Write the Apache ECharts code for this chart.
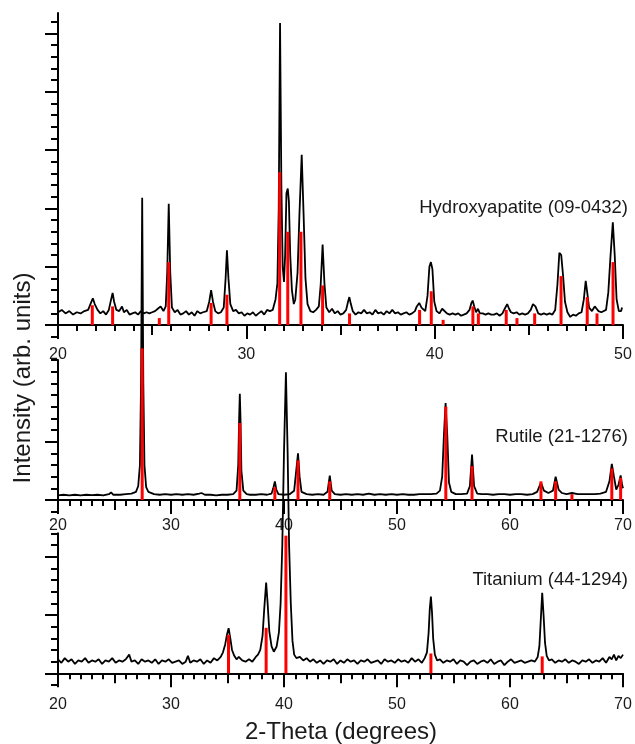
<!DOCTYPE html>
<html>
<head>
<meta charset="utf-8">
<script src="https://cdn.jsdelivr.net/npm/echarts@6/dist/echarts.min.js"></script>
<style>
  html, body { margin: 0; padding: 0; background: #fff; }
  #chart { width: 635px; height: 744px; }
</style>
</head>
<body>
<div id="chart"></div>
<script>
// measured XRD patterns: [2-theta, intensity] (intensity in y-tick units)
var hapCurve = [[20.0,1.1],[20.2,1.3],[20.4,1.0],[20.6,1.2],[20.8,0.9],[21.0,1.1],[21.2,1.0],[21.4,1.2],[21.6,1.3],[21.75,1.9],[21.85,2.3],[21.95,1.8],[22.1,1.3],[22.25,1.0],[22.4,1.2],[22.55,0.9],[22.7,1.3],[22.82,2.2],[22.9,2.75],[22.98,2.0],[23.1,1.3],[23.25,1.2],[23.4,1.6],[23.5,1.1],[23.65,1.3],[23.8,0.9],[23.95,1.0],[24.1,1.1],[24.25,0.9],[24.4,1.2],[24.55,1.0],[24.7,1.1],[24.85,1.0],[25.0,1.1],[25.15,1.2],[25.3,1.4],[25.45,1.6],[25.6,1.2],[25.72,1.6],[25.8,4.5],[25.88,10.4],[25.96,4.5],[26.05,1.5],[26.2,1.1],[26.35,1.3],[26.5,0.9],[26.65,1.0],[26.8,1.2],[26.95,0.9],[27.1,1.1],[27.25,0.8],[27.4,1.2],[27.55,1.0],[27.7,1.1],[27.9,1.2],[28.03,2.0],[28.13,3.0],[28.23,2.0],[28.35,1.2],[28.5,1.0],[28.65,1.1],[28.8,1.5],[28.9,4.0],[28.97,6.4],[29.05,4.0],[29.15,1.8],[29.3,1.2],[29.45,1.3],[29.6,1.0],[29.75,1.1],[29.9,0.8],[30.05,1.0],[30.2,0.9],[30.35,1.1],[30.5,0.8],[30.65,1.0],[30.8,1.2],[30.95,0.9],[31.1,1.3],[31.25,1.2],[31.4,1.3],[31.55,2.2],[31.65,3.6],[31.72,10.0],[31.79,25.9],[31.86,12.0],[31.93,5.0],[32.0,3.7],[32.06,6.0],[32.13,11.3],[32.2,11.7],[32.26,10.6],[32.33,6.0],[32.42,3.0],[32.52,1.8],[32.6,2.2],[32.72,4.5],[32.82,9.5],[32.94,14.6],[33.04,9.5],[33.14,4.0],[33.25,1.8],[33.4,1.2],[33.55,1.1],[33.7,1.3],[33.85,1.6],[33.95,3.5],[34.05,6.9],[34.15,3.5],[34.25,1.5],[34.4,1.1],[34.55,1.4],[34.7,1.0],[34.85,1.2],[35.0,0.9],[35.15,1.0],[35.3,1.3],[35.4,2.0],[35.47,2.4],[35.55,1.8],[35.65,1.2],[35.8,0.9],[35.95,1.1],[36.1,1.0],[36.25,1.3],[36.4,1.0],[36.55,1.1],[36.7,0.9],[36.85,1.3],[37.0,1.0],[37.15,1.1],[37.3,0.9],[37.45,1.2],[37.6,1.0],[37.75,1.3],[37.9,1.0],[38.05,1.1],[38.2,0.9],[38.35,1.0],[38.5,1.1],[38.65,0.9],[38.8,1.0],[38.95,1.2],[39.05,1.6],[39.18,1.9],[39.3,1.5],[39.5,1.2],[39.62,2.5],[39.72,5.0],[39.8,5.4],[39.88,4.8],[39.98,2.0],[40.1,1.2],[40.25,1.0],[40.4,1.4],[40.5,1.3],[40.65,1.0],[40.8,0.9],[40.95,1.0],[41.1,0.9],[41.25,1.0],[41.4,0.8],[41.55,0.9],[41.7,1.0],[41.85,1.3],[41.95,1.9],[42.02,2.1],[42.1,1.6],[42.2,1.1],[42.3,1.4],[42.4,1.0],[42.55,1.0],[42.7,0.9],[42.85,1.0],[43.0,0.9],[43.15,0.9],[43.3,1.0],[43.45,0.8],[43.6,1.0],[43.72,1.4],[43.85,1.8],[43.95,1.4],[44.05,1.1],[44.2,1.0],[44.35,1.1],[44.5,0.9],[44.65,1.0],[44.8,0.9],[44.95,1.0],[45.1,1.3],[45.22,1.8],[45.35,1.6],[45.5,1.0],[45.65,0.9],[45.8,1.0],[45.95,0.9],[46.1,1.0],[46.25,0.9],[46.4,1.3],[46.52,3.5],[46.62,6.2],[46.72,6.0],[46.82,4.2],[46.92,2.0],[47.05,1.1],[47.2,0.7],[47.35,0.9],[47.5,0.8],[47.65,1.0],[47.8,1.1],[47.92,2.2],[48.02,3.8],[48.1,2.8],[48.2,1.5],[48.35,1.2],[48.5,1.6],[48.6,1.4],[48.7,1.2],[48.85,1.1],[48.95,1.0],[49.1,1.3],[49.22,2.8],[49.34,6.0],[49.46,8.8],[49.56,6.0],[49.66,2.2],[49.78,1.2],[49.9,1.2],[49.95,1.5]];

var rutCurve = [[20,0.4],[20.5,0.45],[21,0.4],[21.5,0.45],[22,0.4],[22.5,0.45],[23,0.42],[23.5,0.45],[24,0.4],[24.5,0.5],[24.7,0.65],[24.9,0.45],[25.5,0.45],[26,0.5],[26.5,0.55],[26.9,0.7],[27.1,1.2],[27.25,3.0],[27.35,10.0],[27.45,25.9],[27.55,10.0],[27.65,3.0],[27.8,1.1],[28.0,0.7],[28.5,0.5],[29,0.45],[29.5,0.5],[30,0.45],[30.5,0.5],[31,0.45],[31.5,0.5],[32,0.45],[32.5,0.55],[32.7,0.6],[33,0.45],[33.5,0.45],[34,0.4],[34.5,0.45],[35,0.45],[35.5,0.5],[35.8,0.8],[35.95,3.0],[36.03,7.0],[36.09,9.1],[36.15,7.0],[36.23,2.5],[36.4,0.8],[36.7,0.5],[37,0.45],[37.5,0.45],[38,0.5],[38.5,0.45],[38.9,0.55],[39.05,1.0],[39.19,1.6],[39.32,0.9],[39.5,0.5],[40,0.45],[40.5,0.5],[40.9,0.8],[41.08,2.5],[41.24,4.0],[41.38,2.0],[41.55,0.7],[42,0.5],[42.5,0.45],[43,0.5],[43.5,0.45],[43.85,0.7],[44.05,2.1],[44.22,0.8],[44.5,0.5],[45,0.45],[45.5,0.5],[46,0.45],[46.5,0.5],[47,0.45],[47.5,0.55],[48,0.45],[48.5,0.5],[49,0.45],[49.5,0.5],[50,0.45],[50.5,0.5],[51,0.45],[51.5,0.45],[52,0.5],[52.5,0.5],[53,0.5],[53.5,0.55],[53.8,0.8],[54.0,2.0],[54.15,5.5],[54.3,8.3],[54.45,5.5],[54.6,1.5],[54.8,0.7],[55.2,0.5],[55.7,0.5],[56.2,0.55],[56.45,1.2],[56.64,3.9],[56.82,1.2],[57.1,0.55],[57.5,0.5],[58,0.5],[58.5,0.45],[59,0.5],[59.5,0.5],[60,0.45],[60.5,0.5],[61,0.5],[61.5,0.45],[62,0.5],[62.4,0.7],[62.74,1.5],[63.0,0.8],[63.4,0.6],[63.8,0.8],[64.04,2.0],[64.3,0.9],[64.6,0.6],[65,0.5],[65.48,0.6],[66,0.5],[66.5,0.5],[67,0.5],[67.5,0.5],[68,0.55],[68.5,0.7],[68.8,1.6],[69.01,3.1],[69.2,2.0],[69.4,0.9],[69.6,1.3],[69.79,2.1],[69.92,1.3],[70,1.0]];

var tiCurve = [[20.0,1.2],[20.3,0.9],[20.6,1.3],[20.9,1.0],[21.2,1.2],[21.5,0.8],[21.8,1.1],[22.1,1.0],[22.4,1.3],[22.7,0.9],[23.0,1.1],[23.3,1.0],[23.6,1.2],[23.9,0.8],[24.2,1.1],[24.5,1.0],[24.8,1.3],[25.1,0.9],[25.4,1.1],[25.7,1.0],[26.0,1.2],[26.3,1.6],[26.5,1.0],[26.8,1.1],[27.1,0.8],[27.4,1.2],[27.7,1.0],[28.0,1.1],[28.3,0.9],[28.6,1.2],[28.9,0.8],[29.2,1.1],[29.5,1.0],[29.8,1.2],[30.1,0.9],[30.4,1.0],[30.7,1.1],[31.0,0.8],[31.3,1.0],[31.5,1.5],[31.7,0.9],[32.0,1.1],[32.3,1.0],[32.6,1.2],[32.9,0.8],[33.2,1.1],[33.5,0.9],[33.8,1.3],[34.1,1.1],[34.4,1.4],[34.6,1.8],[34.8,2.5],[34.95,3.3],[35.1,3.86],[35.25,3.0],[35.4,2.0],[35.6,1.5],[35.8,1.2],[36.0,1.4],[36.3,1.1],[36.6,1.0],[36.9,1.2],[37.2,1.0],[37.5,1.4],[37.7,1.6],[37.9,2.0],[38.1,3.2],[38.25,5.5],[38.42,7.77],[38.55,6.0],[38.7,3.6],[38.9,2.3],[39.1,1.85],[39.35,2.3],[39.55,3.5],[39.7,6.0],[39.85,11.0],[40.0,19.0],[40.17,25.8],[40.32,19.0],[40.45,11.0],[40.6,6.0],[40.75,2.8],[40.9,1.6],[41.1,1.3],[41.4,1.4],[41.7,1.1],[42.0,1.3],[42.3,1.0],[42.6,1.2],[42.9,0.9],[43.2,1.1],[43.5,0.8],[43.8,1.1],[44.1,1.0],[44.4,1.2],[44.7,0.8],[45.0,1.1],[45.3,0.9],[45.6,1.2],[45.9,1.0],[46.2,1.1],[46.5,0.8],[46.8,1.1],[47.1,1.0],[47.4,1.2],[47.7,0.9],[48.0,1.0],[48.3,1.1],[48.6,0.8],[48.9,1.2],[49.2,1.0],[49.5,1.1],[49.8,0.9],[50.1,1.2],[50.4,1.0],[50.7,1.1],[51.0,0.9],[51.3,1.3],[51.6,1.0],[51.9,1.2],[52.2,0.9],[52.45,1.3],[52.65,1.8],[52.8,3.5],[52.9,5.5],[53.0,6.57],[53.1,5.2],[53.2,3.0],[53.35,1.6],[53.55,1.1],[53.8,1.2],[54.1,0.9],[54.4,1.1],[54.7,1.0],[55.0,1.2],[55.3,0.8],[55.6,1.1],[55.9,1.0],[56.2,0.7],[56.5,1.0],[56.8,1.1],[57.1,0.8],[57.4,1.0],[57.7,1.1],[58.0,0.9],[58.3,1.2],[58.6,0.8],[58.9,1.0],[59.2,1.1],[59.5,0.7],[59.8,1.0],[60.1,1.2],[60.4,0.9],[60.7,1.0],[61.0,1.1],[61.3,0.9],[61.6,1.0],[61.9,1.1],[62.2,1.0],[62.45,1.4],[62.6,2.3],[62.72,4.5],[62.85,6.9],[62.97,5.0],[63.1,2.6],[63.25,1.5],[63.45,1.1],[63.7,1.2],[64.0,0.9],[64.3,1.1],[64.6,1.0],[64.9,1.2],[65.2,0.9],[65.5,1.1],[65.8,1.0],[66.1,0.8],[66.4,1.1],[66.7,1.0],[67.0,1.2],[67.3,0.9],[67.6,1.1],[67.9,1.0],[68.2,1.3],[68.5,0.9],[68.8,1.4],[69.0,1.2],[69.2,1.6],[69.4,1.1],[69.6,1.5],[69.8,1.3],[70.0,1.6]];

// reference card lines (red sticks): [2-theta, height]
var hapLines = [[21.82,1.7],[22.90,1.6],[25.38,0.6],[25.88,5.4],[28.13,1.9],[28.97,2.6],[31.77,13.1],[32.20,8.0],[32.90,8.0],[34.05,3.4],[35.48,1.0],[39.20,1.3],[39.82,2.9],[40.45,0.45],[42.03,1.6],[42.32,1.0],[43.80,1.3],[44.37,0.6],[45.31,1.0],[46.71,4.2],[48.10,2.4],[48.62,1.0],[49.47,5.4]];
var rutLines = [[27.45,13.0],[36.09,6.6],[39.19,1.1],[41.24,3.4],[44.05,1.6],[54.32,8.0],[56.64,2.9],[62.74,1.6],[64.04,1.6],[65.48,0.5],[69.01,2.7],[69.79,1.9]];
var tiLines = [[35.09,3.3],[38.42,3.9],[40.17,11.8],[53.00,1.7],[62.85,1.45]];

var panelNames = ['Hydroxyapatite (09-0432)', 'Rutile (21-1276)', 'Titanium (44-1294)'];
var xRanges = [[20, 50], [20, 70], [20, 70]];
var yMax = [26.75, 12, 12];
var yMinorTicks = [
  [-1,0,1,2,3,4,5,6,7,8,9,10,11,12,13,14,15,16,17,18,19,20,21,22,23,24,25,26],
  [-1,0,1,2,3,4,5,6,7,8,9,10,11,12],
  [-1,0,1,2,3,4,5,6,7,8,9,10,11,12]
];
var yMajorTicks = [[0,5,10,15,20,25], [0,5], [0,5,10]];

var FONT = 'Arial, "Liberation Sans", Helvetica, sans-serif';
var INK = '#1a1a1a';

// plot panels (y from -1 at bottom), then thin helper grids whose bottom edge is the zero line
var grids = [
  {left: 58, top: 13, width: 565, height: 323.75},
  {left: 58, top: 360, width: 565, height: 151.67},
  {left: 58, top: 533.3, width: 565, height: 151.67},
  {left: 58, top: 305, width: 565, height: 20},
  {left: 58, top: 480, width: 565, height: 20},
  {left: 58, top: 653.3, width: 565, height: 20}
];
var labelMargin = [22, 18, 23];

var curves = [hapCurve, rutCurve, tiCurve];
var sticks = [hapLines, rutLines, tiLines];

var xAxis = [], yAxis = [], series = [];
grids.forEach(function (g) { g.outerBoundsMode = 'none'; g.containLabel = false; });

for (var i = 0; i < 3; i++) {
  // axis line, medium ticks every 5 and minor ticks every 1 (on the zero line)
  xAxis.push({
    type: 'value', gridIndex: i, position: 'bottom',
    min: xRanges[i][0], max: xRanges[i][1], interval: 5,
    axisLine: {onZero: true, lineStyle: {color: '#000', width: 2}},
    axisTick: {length: 10, lineStyle: {color: '#000', width: 2}},
    minorTick: {show: true, splitNumber: 5, length: 6, lineStyle: {color: '#000', width: 2}},
    axisLabel: {show: false},
    splitLine: {show: false}
  });
  yAxis.push({
    type: 'value', gridIndex: i, position: 'left', min: -1, max: yMax[i],
    axisLine: {show: true, onZero: false, lineStyle: {color: '#000', width: 2}},
    axisTick: {length: 7, customValues: yMinorTicks[i], lineStyle: {color: '#000', width: 2}},
    axisLabel: {show: false, customValues: yMinorTicks[i]},
    splitLine: {show: false}
  });
  yAxis.push({
    type: 'value', gridIndex: i, position: 'left', min: -1, max: yMax[i],
    axisLine: {show: false, onZero: false},
    axisTick: {length: 13, customValues: yMajorTicks[i], lineStyle: {color: '#000', width: 2}},
    axisLabel: {show: false, customValues: yMajorTicks[i]},
    splitLine: {show: false}
  });
  series.push({
    type: 'line', xAxisIndex: i, yAxisIndex: 2 * i,
    data: curves[i], showSymbol: false, clip: false, silent: true,
    lineStyle: {color: '#000', width: 1.8}, z: 2
  });
  series.push({
    type: 'bar', xAxisIndex: i, yAxisIndex: 2 * i,
    data: sticks[i], barWidth: 3, clip: false, silent: true,
    itemStyle: {color: '#ff0000'}, z: 3
  });
}
for (var j = 0; j < 3; j++) {
  // long ticks + labels every 10, in the helper grid
  xAxis.push({
    type: 'value', gridIndex: 3 + j, position: 'bottom',
    min: xRanges[j][0], max: xRanges[j][1], interval: 10,
    axisLine: {show: false, onZero: false},
    axisTick: {length: 14, lineStyle: {color: '#000', width: 2}},
    axisLabel: {margin: labelMargin[j], fontSize: 16, color: INK, fontFamily: FONT},
    splitLine: {show: false}
  });
  yAxis.push({type: 'value', gridIndex: 3 + j, min: 0, max: 1, show: false});
}

var chart = echarts.init(document.getElementById('chart'));
chart.setOption({
  animation: false,
  backgroundColor: '#fff',
  grid: grids,
  xAxis: xAxis,
  yAxis: yAxis,
  series: series,
  graphic: [
    {type: 'text', x: 628, y: 208, style: {text: panelNames[0], font: '18.5px ' + FONT, fill: INK, align: 'right', verticalAlign: 'middle'}},
    {type: 'text', x: 628, y: 437, style: {text: panelNames[1], font: '18.5px ' + FONT, fill: INK, align: 'right', verticalAlign: 'middle'}},
    {type: 'text', x: 628, y: 580, style: {text: panelNames[2], font: '18.5px ' + FONT, fill: INK, align: 'right', verticalAlign: 'middle'}},
    {type: 'text', x: 341, y: 732, style: {text: '2-Theta (degrees)', font: '24px ' + FONT, fill: INK, align: 'center', verticalAlign: 'middle'}},
    {type: 'text', x: 23, y: 378, rotation: Math.PI / 2, style: {text: 'Intensity (arb. units)', font: '24px ' + FONT, fill: INK, align: 'center', verticalAlign: 'middle'}}
  ]
});
</script>
</body>
</html>
